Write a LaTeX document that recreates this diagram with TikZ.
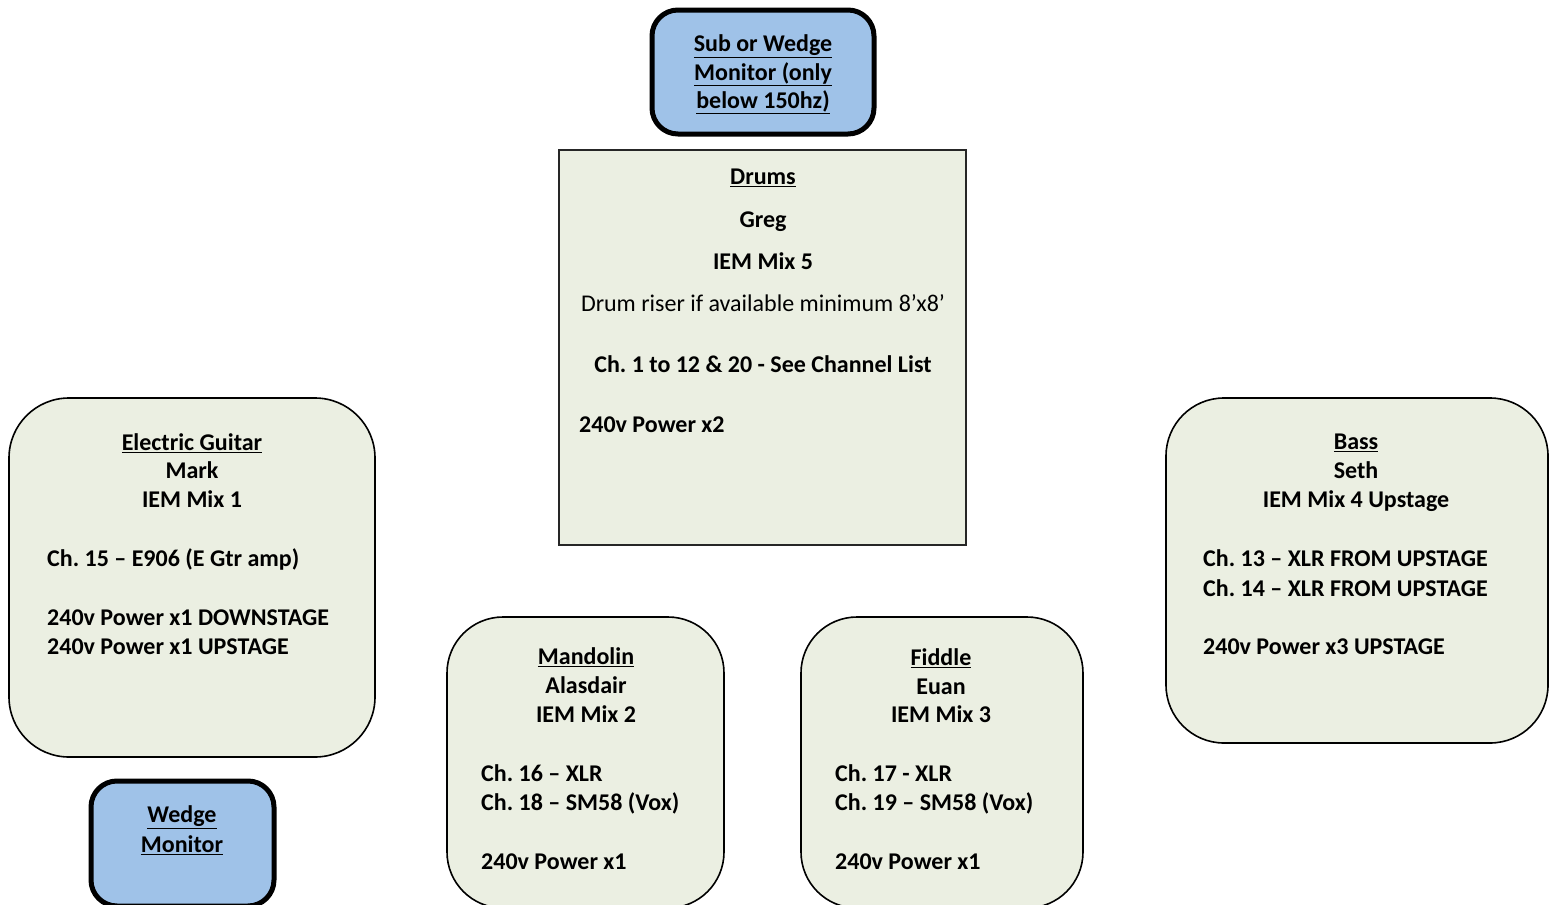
\documentclass[tikz,border=0pt]{standalone}
\usepackage{fontspec}
\setmainfont{Carlito}
\frenchspacing
\begin{document}
\begin{tikzpicture}[x=1pt,y=-1pt,
  every node/.style={font=\fontsize{24}{29}\selectfont\bfseries, inner sep=0pt, yshift=-6pt},
  bluebox/.style={draw=black, line width=5pt, fill=boxblue, rounded corners=26pt},
  greenbox/.style={draw=black, line width=1.6pt, fill=boxgreen, rounded corners=60pt},
  drumbox/.style={draw=black!85, line width=1.8pt, fill=boxgreen},
  ctr/.style={anchor=mid},
  lft/.style={anchor=mid west}]
\definecolor{boxblue}{HTML}{9FC2E8}
\definecolor{boxgreen}{HTML}{EBEFE2}
\useasboundingbox (0,0) rectangle (1556,905);

% boxes
\draw[bluebox] (652,10) rectangle (874,134);
\draw[drumbox] (559,150) rectangle (966,545);
\draw[greenbox] (9,398) rectangle (375,757);
\draw[bluebox] (91,781) rectangle (274,906);
\draw[greenbox, rounded corners=56pt] (447,617) rectangle (724,908);
\draw[greenbox, rounded corners=56pt] (801,617) rectangle (1083,908);
\draw[greenbox, rounded corners=58pt] (1166,398) rectangle (1548,743);

% Sub or wedge
\node[ctr] (s1) at (763,43) {\underline{Sub or Wedge}};
\node[ctr] (s2) at (763,72) {\underline{Monitor (only}};
\node[ctr] (s3) at (763,100) {\underline{below 150hz)}};

% Drums
\node[ctr] (d1) at (763,176) {\underline{Drums}};
\node[ctr] (d2) at (763,219) {Greg};
\node[ctr] (d3) at (763,261) {IEM Mix 5};
\node[ctr, font=\fontsize{24}{29}\selectfont\mdseries] (d4) at (763,303) {Drum riser if available minimum 8’x8’};
\node[ctr] (d5) at (763,364) {Ch. 1 to 12 \& 20 - See Channel List};
\node[lft] (d6) at (579,424) {240v Power x2};

% Electric guitar
\node[ctr] (g1) at (192,442) {\underline{Electric Guitar}};
\node[ctr] (g2) at (192,470) {Mark};
\node[ctr] (g3) at (192,499) {IEM Mix 1};
\node[lft] (g4) at (47,558) {Ch. 15 – E906 (E Gtr amp)};
\node[lft] (g5) at (47,617) {240v Power x1 DOWNSTAGE};
\node[lft] (g6) at (47,646) {240v Power x1 UPSTAGE};

% Wedge monitor
\node[ctr] (w1) at (182,814) {\underline{Wedge}};
\node[ctr] (w2) at (182,844) {\underline{Monitor}};

% Mandolin
\node[ctr] (m1) at (586,656) {\underline{Mandolin}};
\node[ctr] (m2) at (586,685) {Alasdair};
\node[ctr] (m3) at (586,714) {IEM Mix 2};
\node[lft] (m4) at (481,773) {Ch. 16 – XLR};
\node[lft] (m5) at (481,802) {Ch. 18 – SM58 (Vox)};
\node[lft] (m6) at (481,861) {240v Power x1};

% Fiddle
\node[ctr] (f1) at (941,657) {\underline{Fiddle}};
\node[ctr] (f2) at (941,686) {Euan};
\node[ctr] (f3) at (941,714) {IEM Mix 3};
\node[lft] (f4) at (835,773) {Ch. 17 - XLR};
\node[lft] (f5) at (835,802) {Ch. 19 – SM58 (Vox)};
\node[lft] (f6) at (835,861) {240v Power x1};

% Bass
\node[ctr] (b1) at (1356,441) {\underline{Bass}};
\node[ctr] (b2) at (1356,470) {Seth};
\node[ctr] (b3) at (1356,499) {IEM Mix 4 Upstage};
\node[lft] (b4) at (1203,558) {Ch. 13 – XLR FROM UPSTAGE};
\node[lft] (b5) at (1203,588) {Ch. 14 – XLR FROM UPSTAGE};
\node[lft] (b6) at (1203,646) {240v Power x3 UPSTAGE};
\end{tikzpicture}
\end{document}
